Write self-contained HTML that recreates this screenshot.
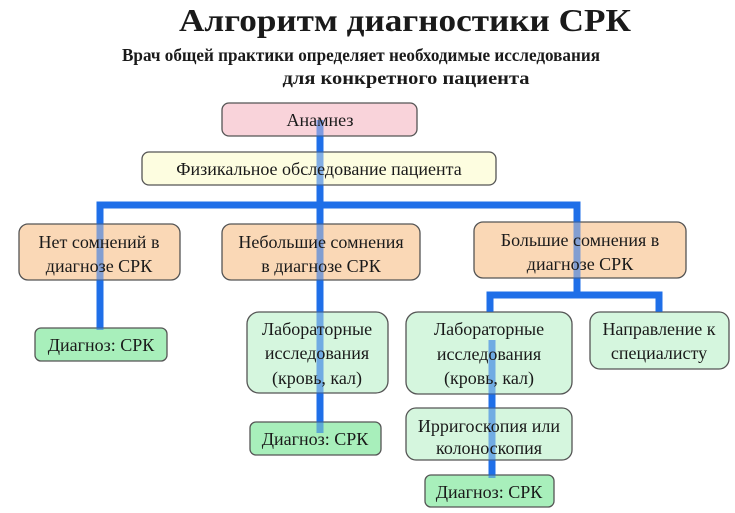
<!DOCTYPE html>
<html><head><meta charset="utf-8"><style>
html,body{margin:0;padding:0;background:#fff;}
svg{display:block;}
text{font-family:"Liberation Serif","DejaVu Serif",serif;fill:#1a1a1a;}
</style></head><body>
<svg width="735" height="513" viewBox="0 0 735 513" xmlns="http://www.w3.org/2000/svg">
<defs>
<g id="lines" stroke="#1f6fe8" stroke-width="7" fill="none">
<path d="M320 120 V433"/>
<path d="M100 330 V205 H577 V295"/>
<path d="M490 312 V295 H659 V312"/>
<path d="M492 340 V478"/>
</g>
</defs>
<text x="405" y="31" font-size="32" font-weight="bold" text-anchor="middle" textLength="452" lengthAdjust="spacingAndGlyphs">Алгоритм диагностики СРК</text>
<text x="361" y="61" font-size="18" font-weight="bold" text-anchor="middle" textLength="478" lengthAdjust="spacingAndGlyphs">Врач общей практики определяет необходимые исследования</text>
<text x="406" y="84" font-size="18" font-weight="bold" text-anchor="middle" textLength="247" lengthAdjust="spacingAndGlyphs">для конкретного пациента</text>
<use href="#lines"/>
<g stroke="#555" stroke-width="1.3">
<rect x="222" y="103" width="195" height="33" rx="7" fill="#f9d3da"/>
<rect x="142" y="152" width="354" height="33" rx="7" fill="#fdfde0"/>
<rect x="19" y="224" width="161" height="56" rx="9" fill="#fad8b6"/>
<rect x="222" y="224" width="198" height="56" rx="9" fill="#fad8b6"/>
<rect x="474" y="222" width="212" height="56" rx="9" fill="#fad8b6"/>
<rect x="35" y="328" width="132" height="33" rx="6" fill="#a8efbb"/>
<rect x="247" y="312" width="141" height="81" rx="12" fill="#d5f6de"/>
<rect x="250" y="422" width="131" height="33" rx="6" fill="#a8efbb"/>
<rect x="406" y="312" width="166" height="82" rx="12" fill="#d5f6de"/>
<rect x="590" y="312" width="139" height="57" rx="10" fill="#d5f6de"/>
<rect x="406" y="408" width="166" height="52" rx="10" fill="#d5f6de"/>
<rect x="425" y="475" width="129" height="32" rx="6" fill="#a8efbb"/>
</g>
<use href="#lines" opacity="0.55"/>
<g font-size="18" text-anchor="middle">
<text x="320" y="126">Анамнез</text>
<text x="319" y="175">Физикальное обследование пациента</text>
<text x="99" y="248">Нет сомнений в</text>
<text x="99" y="272">диагнозе СРК</text>
<text x="321" y="248">Небольшие сомнения</text>
<text x="321" y="272">в диагнозе СРК</text>
<text x="580" y="246">Большие сомнения в</text>
<text x="580" y="270">диагнозе СРК</text>
<text x="101" y="351">Диагноз: СРК</text>
<text x="317" y="335">Лабораторные</text>
<text x="317" y="359">исследования</text>
<text x="317" y="384">(кровь, кал)</text>
<text x="315" y="445">Диагноз: СРК</text>
<text x="489" y="335">Лабораторные</text>
<text x="489" y="360">исследования</text>
<text x="489" y="384">(кровь, кал)</text>
<text x="659" y="335">Направление к</text>
<text x="659" y="359">специалисту</text>
<text x="489" y="432">Ирригоскопия или</text>
<text x="489" y="454">колоноскопия</text>
<text x="489" y="498">Диагноз: СРК</text>
</g>
</svg>
</body></html>
